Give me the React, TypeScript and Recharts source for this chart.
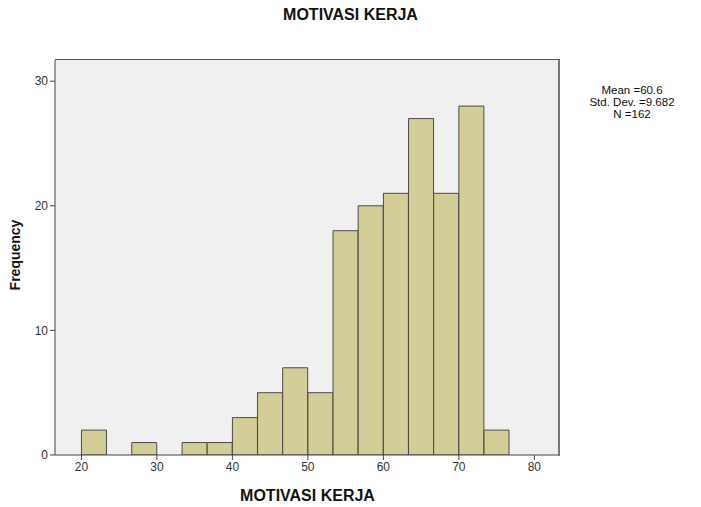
import React from 'react';
import { BarChart, Bar, XAxis, YAxis, CartesianGrid } from 'recharts';

// bin centres (width 3.33) and counts
const binMids = [21.67, 25, 28.33, 31.67, 35, 38.33, 41.67, 45, 48.33, 51.67, 55, 58.33, 61.67, 65, 68.33, 71.67, 75];
const counts = [2, 0, 1, 0, 1, 1, 3, 5, 7, 5, 18, 20, 21, 27, 21, 28, 2];
const xTicks = [20, 30, 40, 50, 60, 70, 80];
const yTicks = [0, 10, 20, 30];
const statLines = ['Mean =60.6', 'Std. Dev. =9.682', 'N =162'];

const data = binMids.map((mid, i) => ({ mid, count: counts[i] }));

const FONT = '"Liberation Sans", Arial, sans-serif';
const tickStyle = { fontSize: 12, fill: '#333', fontFamily: FONT };

const App: React.FC = () => {
    return (
        <div style={{ position: 'absolute', left: 0, top: 0, width: 701, height: 507, background: '#fff', fontFamily: FONT }}>
            <div style={{ position: 'absolute', top: 6, width: 701, textAlign: 'center', fontWeight: 'bold', fontSize: 16, color: '#111' }}>
                MOTIVASI KERJA
            </div>
            <BarChart
                width={701}
                height={507}
                data={data}
                margin={{ top: 60, right: 141, bottom: 0, left: 15 }}
                barCategoryGap={0}
                barGap={0}
            >
                <CartesianGrid fill="#F0F0F0" horizontal={false} vertical={false} />
                <XAxis
                    dataKey="mid"
                    type="number"
                    domain={[16.5, 83.4]}
                    ticks={xTicks}
                    interval={0}
                    height={52}
                    tick={tickStyle}
                    tickSize={5}
                    stroke="#444"
                    allowDataOverflow
                />
                <YAxis
                    type="number"
                    domain={[0, 31.7]}
                    ticks={yTicks}
                    interval={0}
                    width={40}
                    tick={tickStyle}
                    tickSize={5}
                    stroke="#444"
                    allowDataOverflow
                />
                <Bar dataKey="count" fill="#D3CE97" stroke="#4a4a4a" strokeWidth={1} isAnimationActive={false} />
            </BarChart>
            {/* frame around the plot area */}
            <div
                style={{
                    position: 'absolute',
                    left: 55,
                    top: 59,
                    width: 503,
                    height: 396,
                    borderTop: '1px solid #555',
                    borderRight: '2px solid #777',
                    pointerEvents: 'none',
                }}
            />
            <div style={{ position: 'absolute', top: 487, width: 615, textAlign: 'center', fontWeight: 'bold', fontSize: 16, color: '#111' }}>
                MOTIVASI KERJA
            </div>
            <div
                style={{
                    position: 'absolute',
                    left: 15,
                    top: 255,
                    transform: 'translate(-50%, -50%) rotate(-90deg)',
                    fontWeight: 'bold',
                    fontSize: 14,
                    color: '#111',
                    whiteSpace: 'nowrap',
                }}
            >
                Frequency
            </div>
            <div style={{ position: 'absolute', left: 582, top: 84, width: 100, textAlign: 'center', fontSize: 11.5, lineHeight: '12px', color: '#111' }}>
                {statLines.map((s) => (
                    <div key={s}>{s}</div>
                ))}
            </div>
        </div>
    );
};

export default App;
